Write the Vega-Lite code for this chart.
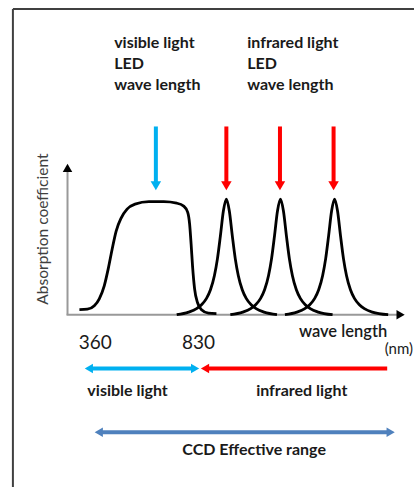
{
  "$schema": "https://vega.github.io/schema/vega-lite/v6.json",
  "width": 416,
  "height": 488,
  "autosize": {"type": "fit", "contains": "padding"},
  "padding": 0,
  "background": "white",
  "config": {"view": {"stroke": null}, "text": {"font": "Lato", "color": "#1a1a1a"}},
  "datasets": {
    "frame": [
      {"x": 13, "y": 9, "x2": 417, "y2": 9},
      {"x": 13, "y": 9, "x2": 13, "y2": 489}
    ],
    "axes": [
      {"x": 68, "y": 172, "x2": 68, "y2": 316},
      {"x": 67, "y": 316, "x2": 400, "y2": 316}
    ],
    "curves": [
      {"curve": "visible", "x": 80, "y": 311},
      {"curve": "visible", "x": 88, "y": 310.5},
      {"curve": "visible", "x": 95, "y": 307},
      {"curve": "visible", "x": 100, "y": 300},
      {"curve": "visible", "x": 105, "y": 287},
      {"curve": "visible", "x": 109, "y": 270},
      {"curve": "visible", "x": 113, "y": 250},
      {"curve": "visible", "x": 117, "y": 232},
      {"curve": "visible", "x": 122, "y": 219},
      {"curve": "visible", "x": 128, "y": 210},
      {"curve": "visible", "x": 136, "y": 205},
      {"curve": "visible", "x": 150, "y": 202.5},
      {"curve": "visible", "x": 165, "y": 202.5},
      {"curve": "visible", "x": 178, "y": 204},
      {"curve": "visible", "x": 185, "y": 207},
      {"curve": "visible", "x": 189, "y": 213},
      {"curve": "visible", "x": 191, "y": 225},
      {"curve": "visible", "x": 192.5, "y": 245},
      {"curve": "visible", "x": 194, "y": 268},
      {"curve": "visible", "x": 196, "y": 290},
      {"curve": "visible", "x": 199, "y": 304},
      {"curve": "visible", "x": 203, "y": 311},
      {"curve": "visible", "x": 210, "y": 314.5},
      {"curve": "visible", "x": 218, "y": 315},
      {"curve": "ir1", "x": 178, "y": 316},
      {"curve": "ir1", "x": 190, "y": 313.4},
      {"curve": "ir1", "x": 198, "y": 309.9},
      {"curve": "ir1", "x": 203, "y": 306},
      {"curve": "ir1", "x": 208, "y": 299.6},
      {"curve": "ir1", "x": 212, "y": 291},
      {"curve": "ir1", "x": 216, "y": 276.6},
      {"curve": "ir1", "x": 219, "y": 259.9},
      {"curve": "ir1", "x": 222, "y": 236.8},
      {"curve": "ir1", "x": 225, "y": 211.9},
      {"curve": "ir1", "x": 228, "y": 200},
      {"curve": "ir1", "x": 231, "y": 211.9},
      {"curve": "ir1", "x": 234, "y": 236.8},
      {"curve": "ir1", "x": 237, "y": 259.9},
      {"curve": "ir1", "x": 240, "y": 276.6},
      {"curve": "ir1", "x": 244, "y": 291},
      {"curve": "ir1", "x": 248, "y": 299.6},
      {"curve": "ir1", "x": 253, "y": 306},
      {"curve": "ir1", "x": 258, "y": 309.9},
      {"curve": "ir1", "x": 266, "y": 313.4},
      {"curve": "ir1", "x": 279, "y": 316},
      {"curve": "ir2", "x": 232, "y": 316},
      {"curve": "ir2", "x": 244.5, "y": 313.4},
      {"curve": "ir2", "x": 252.5, "y": 309.9},
      {"curve": "ir2", "x": 257.5, "y": 306},
      {"curve": "ir2", "x": 262.5, "y": 299.6},
      {"curve": "ir2", "x": 266.5, "y": 291},
      {"curve": "ir2", "x": 270.5, "y": 276.6},
      {"curve": "ir2", "x": 273.5, "y": 259.9},
      {"curve": "ir2", "x": 276.5, "y": 236.8},
      {"curve": "ir2", "x": 279.5, "y": 211.9},
      {"curve": "ir2", "x": 282.5, "y": 200},
      {"curve": "ir2", "x": 285.5, "y": 211.9},
      {"curve": "ir2", "x": 288.5, "y": 236.8},
      {"curve": "ir2", "x": 291.5, "y": 259.9},
      {"curve": "ir2", "x": 294.5, "y": 276.6},
      {"curve": "ir2", "x": 298.5, "y": 291},
      {"curve": "ir2", "x": 302.5, "y": 299.6},
      {"curve": "ir2", "x": 307.5, "y": 306},
      {"curve": "ir2", "x": 312.5, "y": 309.9},
      {"curve": "ir2", "x": 320.5, "y": 313.4},
      {"curve": "ir2", "x": 335, "y": 316},
      {"curve": "ir3", "x": 287, "y": 316},
      {"curve": "ir3", "x": 299, "y": 313.4},
      {"curve": "ir3", "x": 307, "y": 309.9},
      {"curve": "ir3", "x": 312, "y": 306},
      {"curve": "ir3", "x": 317, "y": 299.6},
      {"curve": "ir3", "x": 321, "y": 291},
      {"curve": "ir3", "x": 325, "y": 276.6},
      {"curve": "ir3", "x": 328, "y": 259.9},
      {"curve": "ir3", "x": 331, "y": 236.8},
      {"curve": "ir3", "x": 334, "y": 211.9},
      {"curve": "ir3", "x": 337, "y": 200},
      {"curve": "ir3", "x": 340, "y": 211.9},
      {"curve": "ir3", "x": 343, "y": 236.8},
      {"curve": "ir3", "x": 346, "y": 259.9},
      {"curve": "ir3", "x": 349, "y": 276.6},
      {"curve": "ir3", "x": 353, "y": 291},
      {"curve": "ir3", "x": 357, "y": 299.6},
      {"curve": "ir3", "x": 362, "y": 306},
      {"curve": "ir3", "x": 367, "y": 309.9},
      {"curve": "ir3", "x": 375, "y": 313.4},
      {"curve": "ir3", "x": 391, "y": 316}
    ],
    "shafts": [
      {"band": "visible", "x": 157, "y": 127, "x2": 157, "y2": 184},
      {"band": "infrared", "x": 228, "y": 127, "x2": 228, "y2": 184},
      {"band": "infrared", "x": 282, "y": 127, "x2": 282, "y2": 184},
      {"band": "infrared", "x": 336, "y": 127, "x2": 336, "y2": 184},
      {"band": "visible", "x": 91, "y": 370, "x2": 196, "y2": 370},
      {"band": "infrared", "x": 207, "y": 370, "x2": 390, "y2": 370},
      {"band": "ccd", "x": 100, "y": 434, "x2": 393, "y2": 434}
    ],
    "headsDown": [
      {"band": "visible", "x": 157, "y": 186.5},
      {"band": "infrared", "x": 228, "y": 186.5},
      {"band": "infrared", "x": 282, "y": 186.5},
      {"band": "infrared", "x": 336, "y": 186.5}
    ],
    "headsLeft": [
      {"band": "visible", "x": 89.5, "y": 370},
      {"band": "infrared", "x": 206.5, "y": 370},
      {"band": "ccd", "x": 99.5, "y": 434}
    ],
    "headsRight": [
      {"band": "visible", "x": 196.5, "y": 370},
      {"band": "ccd", "x": 393.5, "y": 434},
      {"band": "axis", "x": 403.5, "y": 316}
    ],
    "headsUp": [
      {"band": "axis", "x": 68, "y": 168.5}
    ],
    "labels": [
      {"group": "head", "text": "visible light", "x": 115, "y": 43},
      {"group": "head", "text": "LED", "x": 115, "y": 64},
      {"group": "head", "text": "wave length", "x": 115, "y": 85},
      {"group": "head", "text": "infrared light", "x": 249, "y": 43},
      {"group": "head", "text": "LED", "x": 249, "y": 64},
      {"group": "head", "text": "wave length", "x": 249, "y": 85},
      {"group": "band", "text": "visible light", "x": 88, "y": 393},
      {"group": "band", "text": "infrared light", "x": 258, "y": 393}
    ]
  },
  "encoding": {
    "x": {"field": "x", "type": "quantitative", "axis": null, "scale": {"domain": [0, 416], "nice": false, "zero": false}},
    "y": {"field": "y", "type": "quantitative", "axis": null, "scale": {"domain": [0, 488], "nice": false, "zero": false, "reverse": true}}
  },
  "layer": [
    {
      "data": {"name": "frame"},
      "mark": {"type": "rule", "color": "#404040", "strokeWidth": 2},
      "encoding": {"x2": {"field": "x2"}, "y2": {"field": "y2"}}
    },
    {
      "data": {"name": "axes"},
      "mark": {"type": "rule", "color": "#999999", "strokeWidth": 2},
      "encoding": {"x2": {"field": "x2"}, "y2": {"field": "y2"}}
    },
    {
      "data": {"name": "curves"},
      "mark": {"type": "line", "color": "black", "strokeWidth": 2.8, "interpolate": "monotone"},
      "encoding": {"detail": {"field": "curve"}, "order": {"field": "x"}}
    },
    {
      "data": {"name": "shafts"},
      "mark": {"type": "rule", "strokeWidth": 4},
      "encoding": {
        "x2": {"field": "x2"}, "y2": {"field": "y2"},
        "color": {"field": "band", "type": "nominal", "legend": null,
          "scale": {"domain": ["visible", "infrared", "ccd", "axis"], "range": ["#00b0f0", "#ff0000", "#4f81bd", "#000000"]}}
      }
    },
    {
      "data": {"name": "headsDown"},
      "mark": {"type": "point", "shape": "triangle-down", "filled": true, "size": 110, "opacity": 1},
      "encoding": {"color": {"field": "band", "type": "nominal", "legend": null}}
    },
    {
      "data": {"name": "headsLeft"},
      "mark": {"type": "point", "shape": "triangle-left", "filled": true, "size": 90, "opacity": 1},
      "encoding": {"color": {"field": "band", "type": "nominal", "legend": null}}
    },
    {
      "data": {"name": "headsRight"},
      "mark": {"type": "point", "shape": "triangle-right", "filled": true, "size": 90, "opacity": 1},
      "encoding": {"color": {"field": "band", "type": "nominal", "legend": null}}
    },
    {
      "data": {"name": "headsUp"},
      "mark": {"type": "point", "shape": "triangle-up", "filled": true, "size": 90, "opacity": 1},
      "encoding": {"color": {"field": "band", "type": "nominal", "legend": null}}
    },
    {
      "data": {"name": "labels"},
      "mark": {"type": "text", "align": "left", "baseline": "middle", "fontSize": 16, "fontWeight": "bold"},
      "encoding": {"text": {"field": "text"}}
    },
    {
      "data": {"values": [{"text": "360", "x": 96, "y": 344}, {"text": "830", "x": 200, "y": 344}]},
      "mark": {"type": "text", "align": "center", "baseline": "middle", "fontSize": 19},
      "encoding": {"text": {"field": "text"}}
    },
    {
      "data": {"values": [{"text": "wave length", "x": 390, "y": 333}]},
      "mark": {"type": "text", "align": "right", "baseline": "middle", "fontSize": 16.5, "fontWeight": 600},
      "encoding": {"text": {"field": "text"}}
    },
    {
      "data": {"values": [{"text": "(nm)", "x": 416, "y": 350}]},
      "mark": {"type": "text", "align": "right", "baseline": "middle", "fontSize": 15},
      "encoding": {"text": {"field": "text"}}
    },
    {
      "data": {"values": [{"text": "CCD Effective range", "x": 256, "y": 452}]},
      "mark": {"type": "text", "align": "center", "baseline": "middle", "fontSize": 16, "fontWeight": "bold"},
      "encoding": {"text": {"field": "text"}}
    },
    {
      "data": {"values": [{"text": "Absorption coefficient", "x": 43, "y": 230}]},
      "mark": {"type": "text", "align": "center", "baseline": "middle", "fontSize": 15.5, "angle": 270, "color": "#404040"},
      "encoding": {"text": {"field": "text"}}
    }
  ]
}
